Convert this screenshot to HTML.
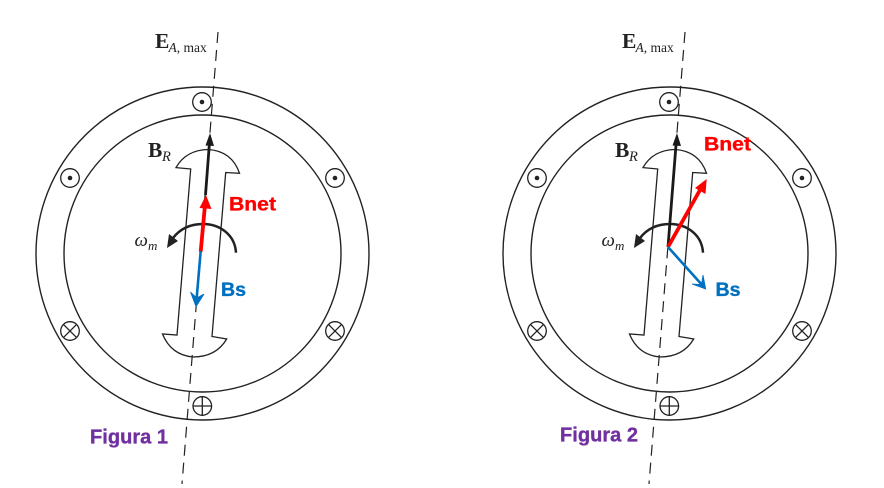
<!DOCTYPE html>
<html><head><meta charset="utf-8">
<style>html,body{margin:0;padding:0;background:#fff}svg{display:block}
.s{font-family:"Liberation Serif",serif;fill:#222}
.l{font-family:"Liberation Sans",sans-serif;font-weight:bold;stroke-width:.35}</style></head>
<body>
<svg width="884" height="488" viewBox="0 0 884 488" xmlns="http://www.w3.org/2000/svg">
<defs>
<g id="base">
<circle cx="202.5" cy="253.5" r="166.5" fill="none" stroke="#222" stroke-width="1.4"/>
<circle cx="202.5" cy="253.5" r="138.500" fill="none" stroke="#222" stroke-width="1.4"/>
<line x1="218" y1="32" x2="182" y2="484" stroke="#222" stroke-width="1.2" stroke-dasharray="11 7"/>
<path d="M190.7 169 L176 167.600 Q186 150 208 149.500 Q232 151 239.500 173.300 L225.700 172.500 L212 336.500 L226.700 339 Q216 357 193 357 Q171 355 162.500 334 L177 335 Z" fill="none" stroke="#222" stroke-width="1.3"/>
<g fill="none" stroke="#222" stroke-width="1.3">
<circle cx="202" cy="102" r="9.300"/><circle cx="70" cy="178" r="9.300"/><circle cx="335" cy="178" r="9.300"/>
<circle cx="70" cy="331" r="9.300"/><circle cx="335" cy="331" r="9.300"/><circle cx="202.300" cy="406" r="9.300"/>
<path d="M63.400 324.400L76.600 337.600M63.400 337.600L76.600 324.400M328.400 324.400L341.600 337.600M328.400 337.600L341.600 324.400M193 406H211.600M202.300 396.700V415.300"/>
</g>
<g fill="#222"><circle cx="202" cy="102" r="2.300"/><circle cx="70" cy="178" r="2.300"/><circle cx="335" cy="178" r="2.300"/></g>
<path d="M236 252.700 C235 235 220 224 203 224 C190 224 180 229 173 238" fill="none" stroke="#222" stroke-width="2.500"/>
<path d="M167 248 L169 234 L178 241 Z" fill="#222"/>
<text class="s" x="155" y="48" font-size="21.500" font-weight="bold">E</text>
<text class="s" x="168.500" y="52" font-size="13.500"><tspan font-style="italic">A</tspan>, max</text>
<text class="s" x="148" y="157" font-size="21.500" font-weight="bold">B</text>
<text class="s" x="162" y="161" font-size="14.500" font-style="italic">R</text>
<text class="s" x="134.500" y="246" font-size="19" font-style="italic">ω</text>
<text class="s" x="148" y="250" font-size="13" font-style="italic">m</text>
</g>
</defs>
<use href="#base"/>
<use href="#base" x="467"/>
<!-- Figure 1 -->
<path d="M205.500 195 L209.300 145" stroke="#1a1a1a" stroke-width="2.800" fill="none"/>
<path d="M210 133 L214 146 L205.500 145.500 Z" fill="#1a1a1a"/>
<path d="M200.700 251.700 L204.700 208" stroke="#f00" stroke-width="3.800" fill="none"/>
<path d="M206 195 L211.500 209 L199.500 208 Z" fill="#f00"/>
<path d="M200.700 251 L196.500 300" stroke="#0070c0" stroke-width="2.600" fill="none"/>
<path d="M190.500 292 L196 306.700 L204 294 L196.800 298 Z" fill="#0070c0" stroke="#0070c0" stroke-width="0.800"/>
<text class="l" x="229" y="210.500" font-size="19" fill="#f00" stroke="#f00" textLength="47" lengthAdjust="spacingAndGlyphs">Bnet</text>
<text class="l" x="221" y="296" font-size="19" fill="#0070c0" stroke="#0070c0" textLength="25" lengthAdjust="spacingAndGlyphs">Bs</text>
<text class="l" x="90" y="443.500" font-size="20" fill="#7030a0" stroke="#7030a0" textLength="78" lengthAdjust="spacingAndGlyphs">Figura 1</text>
<!-- Figure 2 -->
<path d="M668 247 L676 145" stroke="#1a1a1a" stroke-width="2.800" fill="none"/>
<path d="M677 133 L681 146 L672.500 145.500 Z" fill="#1a1a1a"/>
<path d="M668 247 L700 190" stroke="#f00" stroke-width="3.800" fill="none"/>
<path d="M706.700 179 L705.500 194 L695 188 Z" fill="#f00"/>
<path d="M668 247 L703 286" stroke="#0070c0" stroke-width="2.600" fill="none"/>
<path d="M692 284 L705.700 289 L703 275 L701.500 284.500 Z" fill="#0070c0" stroke="#0070c0" stroke-width="0.800"/>
<text class="l" x="704" y="150.500" font-size="19" fill="#f00" stroke="#f00" textLength="47" lengthAdjust="spacingAndGlyphs">Bnet</text>
<text class="l" x="715.500" y="296" font-size="19" fill="#0070c0" stroke="#0070c0" textLength="25" lengthAdjust="spacingAndGlyphs">Bs</text>
<text class="l" x="560" y="441.500" font-size="20" fill="#7030a0" stroke="#7030a0" textLength="78" lengthAdjust="spacingAndGlyphs">Figura 2</text>
</svg>
</body></html>
